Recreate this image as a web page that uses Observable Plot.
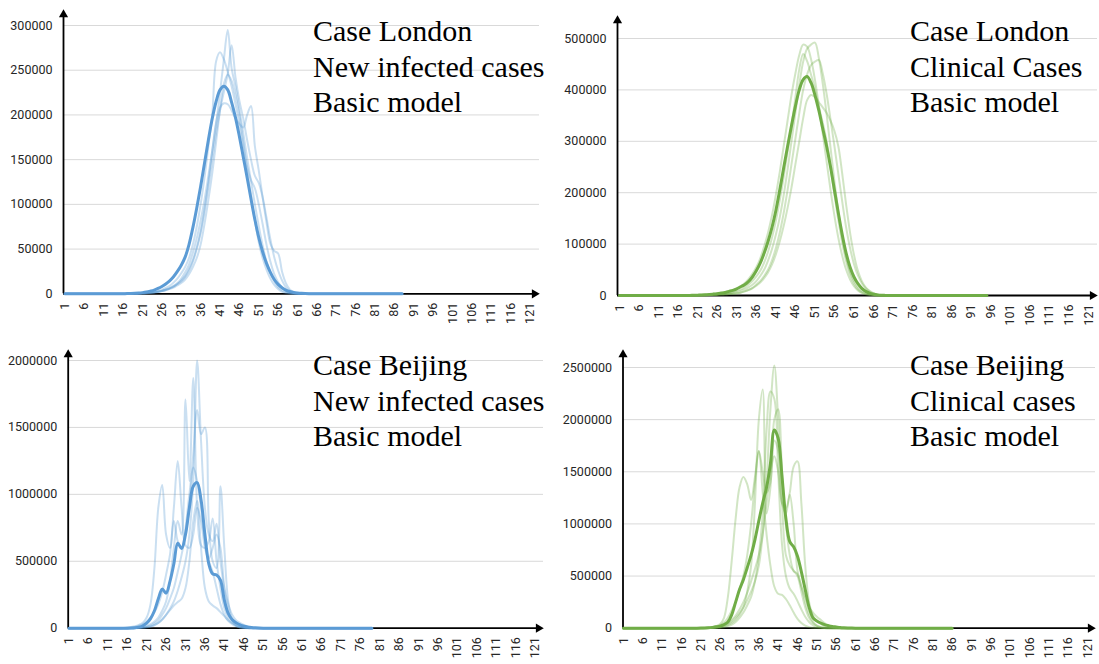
<!DOCTYPE html>
<html><head><meta charset="utf-8">
<script src="https://cdn.jsdelivr.net/npm/d3@7"></script>
<script src="https://cdn.jsdelivr.net/npm/@observablehq/plot@0.6"></script>
<style>
body{margin:0;background:#fff}
#root{position:relative;width:1099px;height:664px;overflow:hidden;background:#fff}
.note{position:absolute;font-family:"Liberation Serif","Times New Roman",serif;font-size:30px;line-height:35.5px;color:#000;white-space:nowrap}
</style></head><body><div id="root"></div>
<script>
// ---------- shared tick labels ----------
const xTickLabels = [1,6,11,16,21,26,31,36,41,46,51,56,61,66,71,76,81,86,91,96,101,106,111,116,121];

// ---------- Case London, new infected cases (values start at day 16) ----------
const londonNewTitle = ["Case London", "New infected cases", "Basic model"];
const londonNewFirstDay = 16;
const londonNewLastDay = 88;
const londonNewTicks = [0,50000,100000,150000,200000,250000,300000];
const londonNewMean = [100,200,300,500,800,1300,2000,3000,4200,6000,8200,11000,14500,19000,25000,32000,41000,55000,74000,96000,120000,146000,172000,196000,215000,228000,232000,228000,214000,197000,176000,153000,130000,106000,83000,63000,47000,34000,24000,16000,10500,6800,4200,2600,1500,900,500,250,100,0];
const londonNewRun1 = [0,0,100,200,300,500,800,1200,1800,2600,3500,5000,6500,9000,12000,17000,24000,33000,46000,62000,82000,105000,132000,160000,190000,225000,262000,295000,252000,232000,206000,180000,152000,126000,100000,76000,54000,36000,23000,14000,7500,3800,1700,600,200];
const londonNewRun2 = [0,0,0,100,200,400,700,1100,1500,2000,3000,4500,6000,8000,11000,14000,19000,26000,36000,50000,68000,92000,120000,150000,180000,205000,226000,246000,278000,242000,216000,196000,172000,150000,132000,124000,108000,85000,61000,41000,26000,15000,7500,3200,1200,400];
const londonNewRun3 = [100,200,300,500,700,1000,1400,1800,2400,3300,4500,6500,9000,12500,17000,23000,30000,40000,55000,75000,100000,130000,165000,200000,260000,270000,262000,248000,232000,212000,190000,165000,138000,110000,82000,58000,40000,27000,17000,10000,5500,2500,1000,300];
const londonNewRun4 = [0,0,100,200,400,600,900,1300,1800,2400,3200,4300,6000,8000,11000,15000,20000,28000,38000,52000,70000,95000,125000,160000,192000,208000,213000,212000,205000,196000,190000,186000,200000,210000,165000,138000,108000,80000,56000,48000,45000,25000,12000,5000,2000,600,200];
const londonNewRun5 = [0,0,0,100,200,400,700,1000,1500,2200,3000,4000,5500,7000,9500,12000,16000,22000,30000,40000,55000,78000,105000,135000,170000,205000,235000,245000,238000,222000,200000,170000,142000,127000,118000,100000,78000,55000,36000,22000,13000,7000,3000,1000,300];

// ---------- Case London, clinical cases (values start at day 20) ----------
const londonClinTitle = ["Case London", "Clinical Cases", "Basic model"];
const londonClinFirstDay = 20;
const londonClinLastDay = 95;
const londonClinTicks = [0,100000,200000,300000,400000,500000];
const londonClinMean = [500,700,1000,1400,2000,2700,3500,4700,6000,8000,10000,13000,17000,21000,27000,36000,48000,63000,82000,105000,132000,165000,205000,248000,290000,330000,368000,400000,420000,426000,414000,390000,360000,325000,290000,250000,205000,160000,118000,82000,55000,36000,23000,14000,8000,4500,2500,1200,500,200,0];
const londonClinRun1 = [300,450,650,900,1200,1600,2100,2800,3600,4500,5500,7000,9000,12000,16000,21000,28000,38000,50000,68000,90000,118000,152000,195000,245000,300000,355000,410000,455000,480000,488000,492000,462000,412000,352000,287000,222000,162000,112000,74000,46000,28000,16000,9000,4500,2200,1000,400,100];
const londonClinRun2 = [800,1100,1500,2000,2600,3300,4200,5000,6000,8000,10000,13500,18000,24000,32000,42000,55000,72000,95000,122000,155000,195000,240000,290000,340000,390000,432000,468000,488000,484000,460000,420000,370000,315000,260000,205000,155000,112000,77000,50000,31000,18000,10000,5000,2200,900,300];
const londonClinRun3 = [400,550,750,1000,1400,1900,2500,3200,4000,5000,6500,9000,12000,16000,21000,28000,37000,48000,64000,85000,112000,145000,185000,230000,280000,330000,385000,440000,470000,456000,430000,402000,368000,336000,300000,250000,196000,146000,102000,66000,40000,23000,12000,6000,2600,1000,300];
const londonClinRun4 = [200,300,400,550,750,1000,1300,1700,2200,2800,3400,4200,5800,8000,11000,15000,21000,28000,38000,50000,68000,92000,122000,160000,205000,255000,305000,355000,400000,430000,448000,455000,458000,432000,392000,342000,290000,236000,182000,132000,92000,61000,39000,24000,14000,7500,3800,1700,700,200];
const londonClinRun5 = [200,300,400,550,750,1000,1300,1700,2200,2800,3400,4000,5500,8000,10500,14000,19000,25000,34000,45000,60000,80000,105000,135000,170000,210000,255000,300000,345000,380000,390000,386000,376000,366000,355000,340000,320000,290000,236000,176000,122000,79000,48000,28000,16000,9000,4500,2000,800,200];

// ---------- Case Beijing, new infected cases (values start at day 14) ----------
const beijingNewTitle = ["Case Beijing", "New infected cases", "Basic model"];
const beijingNewFirstDay = 14;
const beijingNewLastDay = 79;
const beijingNewTicks = [0,500000,1000000,1500000,2000000];
const beijingNewMean = [0,0,500,1500,3500,8000,18000,38000,72000,130000,220000,292000,262000,350000,480000,635000,595000,700000,900000,1060000,1088000,960000,700000,480000,405000,398000,360000,210000,110000,65000,40000,25000,15000,9000,5000,2500,1000,300,0];
const beijingNewRun1 = [0,2000,5000,9000,15000,25000,40000,80000,180000,450000,900000,1070000,700000,600000,900000,1250000,900000,620000,600000,700000,900000,800000,600000,500000,420000,300000,180000,100000,55000,30000,15000,7000,3000,1000];
const beijingNewRun2 = [0,0,0,1000,3000,6000,10000,18000,30000,50000,80000,130000,200000,350000,600000,800000,700000,1710000,1100000,1870000,900000,620000,600000,650000,820000,500000,300000,150000,80000,40000,20000,8000,3000,1000];
const beijingNewRun3 = [0,0,0,0,1000,2500,5000,9000,15000,25000,40000,65000,100000,145000,200000,280000,380000,500000,700000,1100000,2000000,1400000,900000,700000,650000,780000,500000,300000,180000,100000,60000,40000,25000,12000,5000,2000,500];
const beijingNewRun4 = [0,0,0,0,1000,2500,5000,11000,20000,36000,60000,100000,150000,220000,300000,420000,550000,700000,900000,1300000,1630000,1450000,1500000,800000,500000,450000,1060000,600000,200000,60000,20000,5000,1000];
const beijingNewRun5 = [0,0,0,0,0,1000,3000,6000,10000,22000,40000,65000,100000,135000,170000,195000,220000,300000,500000,800000,950000,600000,300000,200000,170000,150000,120000,90000,60000,40000,25000,12000,5000,1500];
const beijingNewRun6 = [0,1000,3000,6000,10000,18000,30000,50000,80000,120000,180000,270000,400000,550000,800000,650000,600000,750000,1000000,1200000,1100000,900000,650000,520000,600000,700000,600000,300000,120000,60000,40000,30000,20000,10000,4000,1000];

// ---------- Case Beijing, clinical cases (values start at day 20) ----------
const beijingClinTitle = ["Case Beijing", "Clinical cases", "Basic model"];
const beijingClinFirstDay = 20;
const beijingClinLastDay = 86;
const beijingClinTicks = [0,500000,1000000,1500000,2000000,2500000];
const beijingClinMean = [500,1000,2000,4000,8000,13000,20000,35000,60000,130000,250000,370000,465000,580000,700000,850000,1030000,1200000,1350000,1580000,1900000,1820000,1450000,1050000,830000,780000,690000,540000,370000,200000,100000,70000,50000,35000,25000,17000,12000,7000,4000,2000,800];
const beijingClinRun1 = [0,500,1000,2500,5000,9000,15000,25000,40000,65000,100000,145000,200000,270000,350000,450000,600000,900000,1400000,2100000,2520000,2000000,1200000,700000,600000,550000,500000,350000,200000,100000,50000,25000,10000,4000,1000];
const beijingClinRun2 = [500,1000,2500,5000,10000,20000,40000,100000,300000,650000,1050000,1350000,1450000,1380000,1230000,1450000,1700000,1300000,900000,600000,400000,330000,320000,280000,220000,150000,90000,50000,25000,10000,4000,1000];
const beijingClinRun3 = [0,0,500,1500,3000,6000,10000,18000,30000,50000,80000,130000,200000,350000,600000,1200000,2000000,2290000,1100000,1350000,2000000,2100000,1500000,1000000,700000,550000,520000,400000,250000,130000,60000,25000,10000,3000];
const beijingClinRun4 = [0,0,500,1000,2000,3500,5000,10000,20000,35000,60000,100000,150000,220000,300000,450000,700000,1100000,1900000,2270000,2200000,1500000,800000,500000,380000,330000,260000,180000,110000,60000,30000,12000,5000,1500];
const beijingClinRun5 = [0,500,1000,2000,3000,7000,15000,28000,50000,80000,120000,180000,250000,340000,450000,570000,700000,900000,1200000,1500000,1650000,1500000,1200000,1150000,1300000,1550000,1600000,1200000,600000,250000,120000,70000,40000,20000,8000,3000,1000];
const beijingClinRun6 = [1000,2000,4000,7000,10000,18000,30000,55000,100000,170000,250000,370000,500000,700000,1000000,1400000,1700000,1500000,1300000,1400000,1800000,1700000,1200000,1100000,1280000,1000000,550000,400000,300000,200000,150000,110000,80000,50000,25000,10000,4000,1000];

// ---------- panel definitions (data) ----------
const panels = [
  {title: londonNewTitle, first: londonNewFirstDay, last: londonNewLastDay, ticks: londonNewTicks, mean: londonNewMean,
   runs: [londonNewRun1, londonNewRun2, londonNewRun3, londonNewRun4, londonNewRun5]},
  {title: londonClinTitle, first: londonClinFirstDay, last: londonClinLastDay, ticks: londonClinTicks, mean: londonClinMean,
   runs: [londonClinRun1, londonClinRun2, londonClinRun3, londonClinRun4, londonClinRun5]},
  {title: beijingNewTitle, first: beijingNewFirstDay, last: beijingNewLastDay, ticks: beijingNewTicks, mean: beijingNewMean,
   runs: [beijingNewRun1, beijingNewRun2, beijingNewRun3, beijingNewRun4, beijingNewRun5, beijingNewRun6]},
  {title: beijingClinTitle, first: beijingClinFirstDay, last: beijingClinLastDay, ticks: beijingClinTicks, mean: beijingClinMean,
   runs: [beijingClinRun1, beijingClinRun2, beijingClinRun3, beijingClinRun4, beijingClinRun5, beijingClinRun6]}
];

// ---------- layout & style (kept apart from the data) ----------
const styles = [
  {color: "#5b9bd5"}, {color: "#70ad47"}, {color: "#5b9bd5"}, {color: "#70ad47"}
];
const layouts = [
  {left: 0,   top: 0,   width: 552, height: 335, axisX: 63,   day1: 64.5, day121: 529.5, arrowX: 539, y0: 293.3, maxTickPx: 25, topPx: 9,  textLeft: 313, textTop: 13},
  {left: 554, top: 0,   width: 545, height: 335, axisX: 63,   day1: 65,   day121: 534,   arrowX: 543, y0: 295,   maxTickPx: 38, topPx: 15, textLeft: 910, textTop: 13},
  {left: 0,   top: 335, width: 552, height: 329, axisX: 67.7, day1: 68.5, day121: 534.5, arrowX: 543, y0: 292.7, maxTickPx: 25, topPx: 14, textLeft: 313, textTop: 347},
  {left: 554, top: 335, width: 545, height: 329, axisX: 68.5, day1: 69,   day121: 533,   arrowX: 541, y0: 292.7, maxTickPx: 32, topPx: 14, textLeft: 910, textTop: 347}
];

function toRows(first, last, values, run) {
  const rows = [];
  for (let d = 1; d <= last; d++) {
    const i = d - first;
    rows.push({day: d, value: (i >= 0 && i < values.length) ? values[i] : 0, run});
  }
  return rows;
}

const root = document.getElementById("root");

panels.forEach((p, k) => {
  const L = layouts[k], S = styles[k];
  const ppd = (L.day121 - L.day1) / 120;
  const xStart = 1 - (L.day1 - L.axisX) / ppd;
  const xEnd = 121 + (L.arrowX - L.day121) / ppd;
  const maxTick = p.ticks[p.ticks.length - 1];
  const yTop = maxTick * (L.y0 - L.topPx) / (L.y0 - L.maxTickPx);
  const light = p.runs.flatMap((r, i) => toRows(p.first, p.last, r, i));
  const mean = toRows(p.first, p.last, p.mean, "mean");

  const svg = Plot.plot({
    width: L.width, height: L.height,
    marginLeft: L.axisX, marginRight: L.width - L.arrowX,
    marginTop: L.topPx, marginBottom: L.height - L.y0,
    style: {fontFamily: "Roboto, 'Open Sans', sans-serif", fontSize: "12.5px", color: "#262626", background: "transparent", overflow: "visible"},
    x: {domain: [xStart, xEnd], axis: null},
    y: {domain: [0, yTop], axis: null},
    marks: [
      Plot.ruleY(p.ticks.filter(t => t > 0), {x1: () => xStart, x2: () => xEnd, stroke: "#d9d9d9", strokeWidth: 1}),
      Plot.ruleY([0], {x1: () => xStart, x2: () => xEnd - 3 / ppd, stroke: "#000", strokeWidth: 1.8}),
      Plot.ruleX([xStart], {y1: 0, y2: yTop - 3 * yTop / (L.y0 - L.topPx), stroke: "#000", strokeWidth: 1.8}),
      Plot.line(light, {x: "day", y: "value", z: "run", stroke: S.color, strokeOpacity: 0.32, strokeWidth: 2, curve: "catmull-rom"}),
      Plot.line(mean, {x: "day", y: "value", stroke: S.color, strokeWidth: 3, curve: "catmull-rom"}),
      Plot.dot([0], {x: () => xEnd, y: () => 0, dx: -5, symbol: "triangle", r: 3.4, fill: "#000", rotate: 90}),
      Plot.dot([0], {x: () => xStart, y: () => yTop, dy: 5, symbol: "triangle", r: 3.4, fill: "#000"}),
      Plot.axisY(p.ticks, {tickSize: 0, tickPadding: 11, label: null, tickFormat: d => String(d)}),
      Plot.axisX(xTickLabels, {tickSize: 0, tickPadding: 9, tickRotate: -90, label: null, tickFormat: d => String(d)})
    ]
  });
  svg.style.position = "absolute";
  svg.style.left = L.left + "px";
  svg.style.top = L.top + "px";
  svg.style.maxWidth = "none";
  root.appendChild(svg);

  const note = document.createElement("div");
  note.className = "note";
  note.style.left = L.textLeft + "px";
  note.style.top = L.textTop + "px";
  note.innerHTML = p.title.map(t => `<div>${t}</div>`).join("");
  root.appendChild(note);
});
</script>
</body></html>
